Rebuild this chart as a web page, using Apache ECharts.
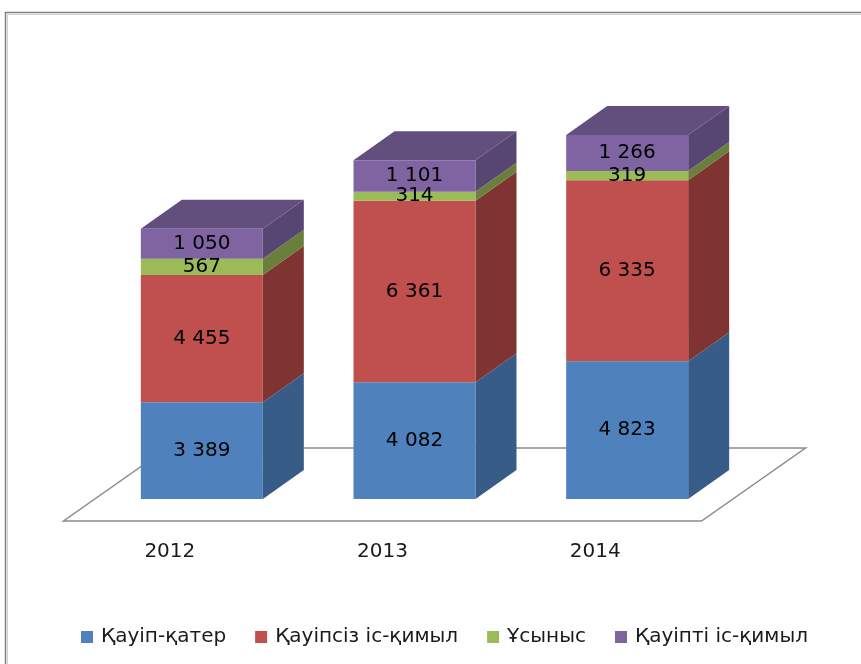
<!DOCTYPE html>
<html>
<head>
<meta charset="utf-8">
<script src="https://cdn.jsdelivr.net/npm/echarts@6/dist/echarts.min.js"></script>
<style>html,body{margin:0;padding:0;background:#fff}#c{width:861px;height:664px}</style>
</head>
<body>
<div id="c"></div>
<script>
const categories = ['2012', '2013', '2014'];
const seriesNames = ['Қауіп-қатер', 'Қауіпсіз іс-қимыл', 'Ұсыныс', 'Қауіпті іс-қимыл'];
const kauipKater = [3389, 4082, 4823];
const kauipsizIsKimyl = [4455, 6361, 6335];
const usynys = [567, 314, 319];
const kauiptiIsKimyl = [1050, 1101, 1266];
const yMin = 0, yMax = 14000;

const values = [kauipKater, kauipsizIsKimyl, usynys, kauiptiIsKimyl];
const frontColors = ['#4f81bd', '#c0504d', '#9bbb59', '#8064a2'];
const sideColors = ['#385c88', '#7f3432', '#6a7f3c', '#584672'];
const topColors = ['#4a6f9c', '#964240', '#7d9447', '#634f7d'];
const FONT = 'DejaVu Sans';
const BAR_W = 122, DX = 41, DY = -29;

function fmt(v) { return String(v).replace(/\B(?=(\d{3})+(?!\d))/g, ' '); }

// segments for 3D side/top faces
const segData = [];
categories.forEach((c, i) => {
  let base = 0;
  values.forEach((arr, s) => {
    const top = base + arr[i];
    segData.push([i, base, top, s, s === values.length - 1 ? 1 : 0]);
    base = top;
  });
});

const chart = echarts.init(document.getElementById('c'), null, {renderer: 'canvas'});
const barSeries = values.map((arr, s) => ({
  name: seriesNames[s],
  type: 'bar',
  stack: 'total',
  barWidth: BAR_W,
  z: 3,
  data: arr,
  itemStyle: {color: frontColors[s]},
  label: {
    show: true, position: 'inside', color: '#000', fontFamily: FONT, fontSize: 20,
    formatter: p => fmt(p.value)
  }
}));

chart.setOption({
  animation: false,
  textStyle: {fontFamily: FONT},
  grid: {left: 95.5, right: 127.5, top: 99, bottom: 165},
  legend: {
    data: seriesNames,
    left: 76, top: 622,
    icon: 'rect', itemWidth: 12, itemHeight: 12, itemGap: 29,
    textStyle: {fontFamily: FONT, fontSize: 20, color: '#1a1a1a', padding: [0, 0, 0, 3]}
  },
  xAxis: {
    type: 'category', data: categories,
    axisLine: {show: false}, axisTick: {show: false},
    axisLabel: {margin: 43, fontSize: 20, fontFamily: FONT, color: '#1a1a1a', padding: [0, 64, 0, 0], lineHeight: 20}
  },
  yAxis: {type: 'value', min: yMin, max: yMax, show: false, splitLine: {show: false}},
  graphic: [
    {type: 'rect', shape: {x: 5.5, y: 12.5, width: 900, height: 700}, style: {fill: 'none', stroke: '#7f7f7f', lineWidth: 1.5}, silent: true, z: 0},
    {type: 'rect', shape: {x: 7.5, y: 14.5, width: 900, height: 700}, style: {fill: 'none', stroke: '#d0d0d0', lineWidth: 1}, silent: true, z: 0}
  ],
  series: [
    {
      type: 'custom', name: 'floor', z: 1, silent: true,
      data: [[0, 0]],
      encode: {x: 0, y: 1},
      renderItem: (params, api) => {
        const cs = params.coordSys;
        const y0 = api.coord([0, 0])[1];
        const l = cs.x, r = cs.x + cs.width;
        const f = [-32, 22], b = [72, -51];
        return {
          type: 'polygon',
          shape: {points: [[l + f[0], y0 + f[1]], [r + f[0], y0 + f[1]], [r + b[0], y0 + b[1]], [l + b[0], y0 + b[1]]]},
          style: {fill: '#fff', stroke: '#8c8c8c', lineWidth: 1.5}
        };
      }
    },
    {
      type: 'custom', name: 'faces', z: 2, silent: true,
      data: segData,
      encode: {x: 0, y: [1, 2]},
      renderItem: (params, api) => {
        const cat = api.value(0), lo = api.value(1), hi = api.value(2), s = api.value(3), isTop = api.value(4);
        const pLo = api.coord([cat, lo]), pHi = api.coord([cat, hi]);
        const xl = pLo[0] - BAR_W / 2, xr = pLo[0] + BAR_W / 2;
        const children = [{
          type: 'polygon',
          shape: {points: [[xr, pHi[1]], [xr + DX, pHi[1] + DY], [xr + DX, pLo[1] + DY], [xr, pLo[1]]]},
          style: {fill: sideColors[s]}
        }];
        if (isTop) {
          children.push({
            type: 'polygon',
            shape: {points: [[xl, pHi[1]], [xl + DX, pHi[1] + DY], [xr + DX, pHi[1] + DY], [xr, pHi[1]]]},
            style: {fill: topColors[s]}
          });
        }
        return {type: 'group', children};
      }
    },
    ...barSeries
  ]
});
</script>
</body>
</html>
